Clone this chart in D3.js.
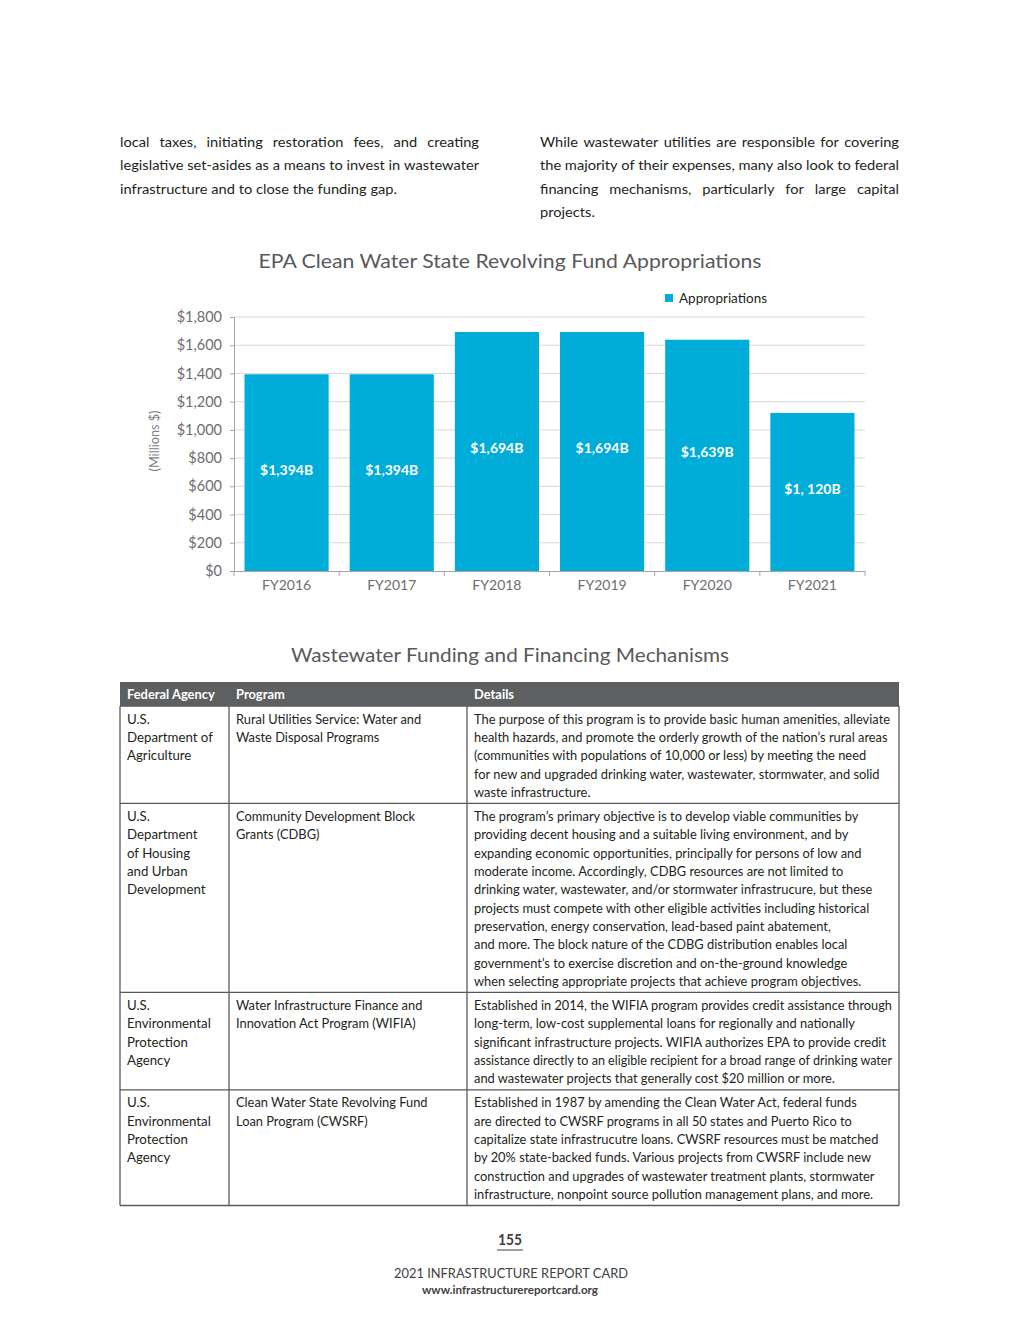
<!DOCTYPE html>
<html><head><meta charset="utf-8">
<script src="https://cdn.jsdelivr.net/npm/d3@7"></script>
<style>body{margin:0;background:#fff}svg{display:block}</style>
</head><body>
<script>
// ---------- DATA ----------
const categories = ["FY2016","FY2017","FY2018","FY2019","FY2020","FY2021"];
const appropriations = [1394,1394,1694,1694,1639,1120];
const barLabels = ["$1,394B","$1,394B","$1,694B","$1,694B","$1,639B","$1, 120B"];
const yTicks = [0,200,400,600,800,1000,1200,1400,1600,1800];
const seriesName = "Appropriations";
const yTitle = "(Millions $)";
const chartTitle = "EPA Clean Water State Revolving Fund Appropriations";
const tableTitle = "Wastewater Funding and Financing Mechanisms";
const tableHeaders = ["Federal Agency","Program","Details"];
const agencies = [
  ["U.S.","Department of","Agriculture"],
  ["U.S.","Department","of Housing","and Urban","Development"],
  ["U.S.","Environmental","Protection","Agency"],
  ["U.S.","Environmental","Protection","Agency"]
];
const programs = [
  ["Rural Utilities Service: Water and","Waste Disposal Programs"],
  ["Community Development Block","Grants (CDBG)"],
  ["Water Infrastructure Finance and","Innovation Act Program (WIFIA)"],
  ["Clean Water State Revolving Fund","Loan Program (CWSRF)"]
];
const details = [
  ["The purpose of this program is to provide basic human amenities, alleviate",
   "health hazards, and promote the orderly growth of the nation\u2019s rural areas",
   "(communities with populations of 10,000 or less) by meeting the need",
   "for new and upgraded drinking water, wastewater, stormwater, and solid",
   "waste infrastructure."],
  ["The program\u2019s primary objective is to develop viable communities by",
   "providing decent housing and a suitable living environment, and by",
   "expanding economic opportunities, principally for persons of low and",
   "moderate income. Accordingly, CDBG resources are not limited to",
   "drinking water, wastewater, and/or stormwater infrastrucure, but these",
   "projects must compete with other eligible activities including historical",
   "preservation, energy conservation, lead-based paint abatement,",
   "and more. The block nature of the CDBG distribution enables local",
   "government\u2019s to exercise discretion and on-the-ground knowledge",
   "when selecting appropriate projects that achieve program objectives."],
  ["Established in 2014, the WIFIA program provides credit assistance through",
   "long-term, low-cost supplemental loans for regionally and nationally",
   "significant infrastructure projects. WIFIA authorizes EPA to provide credit",
   "assistance directly to an eligible recipient for a broad range of drinking water",
   "and wastewater projects that generally cost $20 million or more."],
  ["Established in 1987 by amending the Clean Water Act, federal funds",
   "are directed to CWSRF programs in all 50 states and Puerto Rico to",
   "capitalize state infrastrucutre loans. CWSRF resources must be matched",
   "by 20% state-backed funds. Various projects from CWSRF include new",
   "construction and upgrades of wastewater treatment plants, stormwater",
   "infrastructure, nonpoint source pollution management plans, and more."]
];
const leftParagraph = [
  "local taxes, initiating restoration fees, and creating",
  "legislative set-asides as a means to invest in wastewater",
  "infrastructure and to close the funding gap."
];
const rightParagraph = [
  "While wastewater utilities are responsible for covering",
  "the majority of their expenses, many also look to federal",
  "financing mechanisms, particularly for large capital",
  "projects."
];
const pageNumber = "155";
const footerTitle = "2021 INFRASTRUCTURE REPORT CARD";
const footerUrl = "www.infrastructurereportcard.org";

// ---------- SETUP ----------
const W = 1020, H = 1320;
const FONT = "Lato, 'Open Sans', sans-serif";
const BAR = "#00acd8";
const svg = d3.select("body").append("svg").attr("width", W).attr("height", H)
  .style("font-family", FONT);

const measurer = svg.append("text").attr("x", -1000).attr("y", -1000);
function measure(str, size, weight) {
  measurer.attr("font-size", size).attr("font-weight", weight || 400).text(str);
  return measurer.node().getComputedTextLength();
}
function txt(g, str, x, y, size, o) {
  o = o || {};
  const t = g.append("text").attr("x", x).attr("y", y).attr("font-size", size)
    .attr("font-weight", o.weight || 400).attr("fill", o.fill || "#231f20")
    .attr("text-anchor", o.anchor || "start").text(str);
  let w = o.width;
  if (w == null && o.k) w = measure(str, size, o.weight) * o.k;
  if (w != null && o.max != null) w = Math.min(w, o.max);
  if (w != null) t.attr("textLength", w).attr("lengthAdjust", "spacingAndGlyphs");
  return t;
}

// ---------- PARAGRAPHS ----------
const pSize = 13.5;
const kPara = 277 / measure(leftParagraph[2], pSize);
function paragraph(lines, x0, x1, y0, lh) {
  const g = svg.append("g");
  lines.forEach((line, i) => {
    const yy = y0 + i * lh;
    const last = i === lines.length - 1;
    if (last) { txt(g, line, x0, yy, pSize, {k: kPara}); return; }
    const words = line.split(" ");
    const ws = words.map(w => measure(w, pSize) * kPara);
    const gap = (x1 - x0 - d3.sum(ws)) / (words.length - 1);
    let xx = x0;
    words.forEach((w, j) => { txt(g, w, xx, yy, pSize, {width: ws[j]}); xx += ws[j] + gap; });
  });
}
paragraph(leftParagraph, 120, 479, 147, 23.3);
paragraph(rightParagraph, 540, 899, 147, 23.3);

// ---------- CHART ----------
const plot = {left: 234, right: 865, top: 317, bottom: 571};
const x = d3.scaleBand().domain(categories).range([plot.left, plot.right])
  .paddingInner(0.2).paddingOuter(0.1);
const y = d3.scaleLinear().domain([0, 1800]).range([plot.bottom, plot.top]);
const ch = svg.append("g");

txt(ch, chartTitle, 510, 268, 19, {anchor: "middle", fill: "#58595b", width: 503});

// gridlines
ch.append("g").selectAll("line").data(yTicks.filter(d => d > 0)).join("line")
  .attr("x1", plot.left).attr("x2", plot.right)
  .attr("y1", d => y(d)).attr("y2", d => y(d))
  .attr("stroke", "#d9d9d9").attr("stroke-width", 1);

// y axis
const yAx = ch.append("g").attr("transform", `translate(${plot.left},0)`)
  .call(d3.axisLeft(y).tickValues(yTicks).tickSize(4).tickPadding(8)
    .tickFormat(d => "$" + d3.format(",")(d)));
yAx.select(".domain").attr("stroke", "#a6a6a6");
yAx.selectAll(".tick line").attr("stroke", "#a6a6a6");
yAx.selectAll(".tick text").attr("font-family", FONT).attr("font-size", 14.5)
  .attr("fill", "#6d6e71");

// bars
ch.append("g").selectAll("rect").data(categories).join("rect")
  .attr("x", d => x(d)).attr("width", x.bandwidth())
  .attr("y", (d, i) => y(appropriations[i]))
  .attr("height", (d, i) => plot.bottom - y(appropriations[i]))
  .attr("fill", BAR);

// bar labels
ch.append("g").selectAll("text").data(categories).join("text")
  .attr("x", d => x(d) + x.bandwidth() / 2)
  .attr("y", (d, i) => (y(appropriations[i]) + plot.bottom) / 2 + 2)
  .attr("text-anchor", "middle").attr("font-size", 14).attr("font-weight", 700)
  .attr("fill", "#fff").text((d, i) => barLabels[i]);

// x axis
const xAx = ch.append("g").attr("transform", `translate(0,${plot.bottom})`)
  .call(d3.axisBottom(x).tickSize(0).tickPadding(9));
xAx.select(".domain").attr("stroke", "#a6a6a6");
xAx.selectAll(".tick text").attr("font-family", FONT).attr("font-size", 14)
  .attr("fill", "#6d6e71");
const bounds = d3.range(categories.length + 1).map(i => plot.left + i * x.step());
ch.append("g").selectAll("line").data(bounds).join("line")
  .attr("x1", d => d).attr("x2", d => d)
  .attr("y1", plot.bottom).attr("y2", plot.bottom + 5)
  .attr("stroke", "#a6a6a6");

// y title
txt(ch.append("g").attr("transform", "translate(159,441) rotate(-90)"),
  yTitle, 0, 0, 12.5, {anchor: "middle", fill: "#808285", width: 61});

// legend
ch.append("rect").attr("x", 665).attr("y", 294).attr("width", 8).attr("height", 8).attr("fill", BAR);
txt(ch, seriesName, 679, 303, 14, {fill: "#231f20", width: 88});

// ---------- TABLE ----------
txt(svg, tableTitle, 510, 662, 19, {anchor: "middle", fill: "#58595b", width: 438});

const tSize = 14, lineH = 18.35;
const kTab = 416 / measure(details[0][0], tSize);
const colX = [120, 229, 467, 899];
const maxW = [96, 226, 418];
const tbl = svg.append("g");
const headTop = 682, headBot = 706;
tbl.append("rect").attr("x", colX[0]).attr("y", headTop)
  .attr("width", colX[3] - colX[0]).attr("height", headBot - headTop).attr("fill", "#5d5f61");
tableHeaders.forEach((h, i) => txt(tbl, h, colX[i] + 7, 699, 13.5,
  {weight: 700, fill: "#ffffff", k: kTab * 1.04}));

let rowY = headBot;
const rowTops = [];
agencies.forEach((a, r) => {
  const cols = [a, programs[r], details[r]];
  const n = d3.max(cols, c => c.length);
  rowTops.push(rowY);
  cols.forEach((lines, c) => lines.forEach((ln, j) =>
    txt(tbl, ln, colX[c] + 7, rowY + 17.5 + j * lineH, tSize,
      {k: c === 0 ? kTab * 1.03 : kTab, max: maxW[c]})));
  rowY += n * lineH + 5.6;
});
const tableBottom = rowY;
const bc = "#58595b";
rowTops.slice(1).concat([headBot, tableBottom]).forEach(yy =>
  tbl.append("line").attr("x1", colX[0]).attr("x2", colX[3]).attr("y1", yy).attr("y2", yy)
    .attr("stroke", bc).attr("stroke-width", 1.3));
colX.forEach(xx =>
  tbl.append("line").attr("x1", xx).attr("x2", xx).attr("y1", headBot).attr("y2", tableBottom)
    .attr("stroke", bc).attr("stroke-width", 1.3));

// ---------- FOOTER ----------
txt(svg, pageNumber, 510, 1245, 15, {anchor: "middle", weight: 700, fill: "#414042", width: 24});
svg.append("line").attr("x1", 497).attr("x2", 523).attr("y1", 1250).attr("y2", 1250)
  .attr("stroke", "#414042").attr("stroke-width", 1);
txt(svg, footerTitle, 511, 1278, 12.5, {anchor: "middle", fill: "#414042", width: 234});
txt(svg, footerUrl, 510, 1294, 11, {anchor: "middle", weight: 700, fill: "#414042", width: 176});

measurer.remove();
</script>
</body></html>
